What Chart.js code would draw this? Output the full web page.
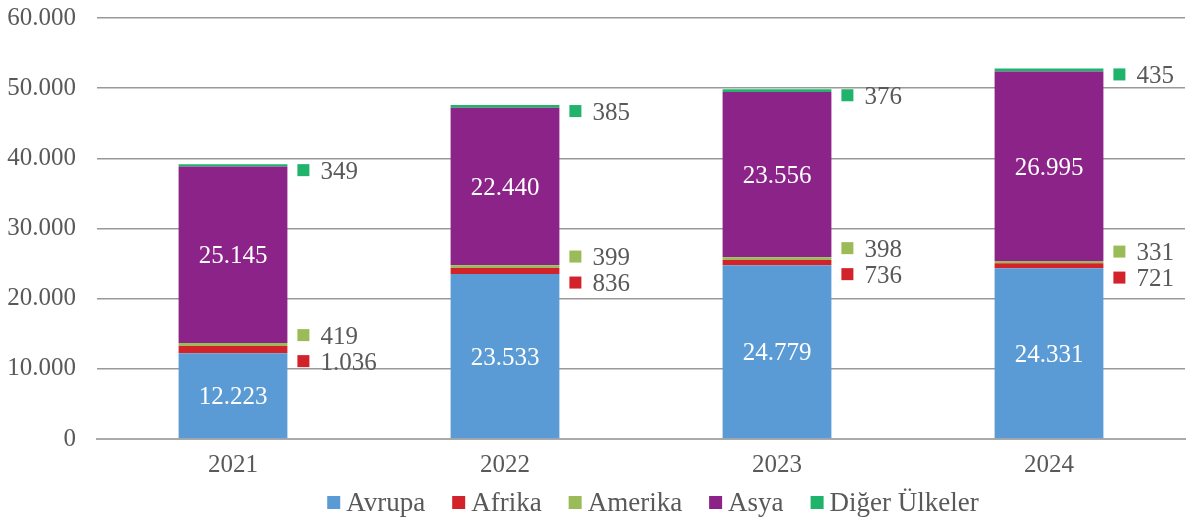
<!DOCTYPE html>
<html>
<head>
<meta charset="utf-8">
<script src="https://cdn.jsdelivr.net/npm/chart.js@4"></script>
<style>
  html, body { margin: 0; padding: 0; background: #fff; }
  #wrap { width: 1195px; height: 521px; }
</style>
</head>
<body>
<div id="wrap"><canvas id="chart" width="1195" height="521"></canvas></div>
<script>
const years = ['2021', '2022', '2023', '2024'];
const avrupa = [12223, 23533, 24779, 24331];
const afrika = [1036, 836, 736, 721];
const amerika = [419, 399, 398, 331];
const asya = [25145, 22440, 23556, 26995];
const diger = [349, 385, 376, 435];
const yTicks = [0, 10000, 20000, 30000, 40000, 50000, 60000];

const FONT = '"Liberation Serif", "DejaVu Serif", serif';
const GREY = '#595959';

// numbers with a dot as thousands separator
function fmt(v) {
    return v.toString().replace(/\B(?=(\d{3})+(?!\d))/g, '.');
}

// labels inside the bar (white) and beside it (with a small square)
const labelPlugin = {
    id: 'segLabels',
    afterDatasetsDraw(chart) {
        const ctx = chart.ctx;
        ctx.save();
        ctx.font = '25px ' + FONT;
        ctx.textBaseline = 'middle';
        chart.data.datasets.forEach((ds, i) => {
            const meta = chart.getDatasetMeta(i);
            meta.data.forEach((bar, j) => {
                const v = ds.data[j];
                const right = bar.x + bar.width / 2;
                let y;
                if (i === 0 || i === 3) {
                    ctx.fillStyle = '#ffffff';
                    ctx.textAlign = 'center';
                    ctx.fillText(fmt(v), bar.x, (bar.y + bar.base) / 2 + 2);
                    return;
                }
                if (i === 1 || i === 2) {
                    const afr = chart.getDatasetMeta(1).data[j];
                    const am = chart.getDatasetMeta(2).data[j];
                    const mid = (afr.base + am.y) / 2;
                    y = i === 2 ? mid - 13 : mid + 13;
                } else {
                    y = bar.y + 6;
                }
                ctx.fillStyle = ds.backgroundColor;
                ctx.fillRect(right + 10, y - 6, 12, 12);
                ctx.fillStyle = GREY;
                ctx.textAlign = 'left';
                ctx.fillText(fmt(v), right + 33, y + 2);
            });
        });
        ctx.restore();
    }
};

// legend under the axis, drawn by hand to get Excel-like spacing
const legendPlugin = {
    id: 'bottomLegend',
    afterDraw(chart) {
        const ctx = chart.ctx;
        const sets = chart.data.datasets;
        ctx.save();
        ctx.font = '27px ' + FONT;
        ctx.textBaseline = 'middle';
        ctx.textAlign = 'left';
        const box = 13, gap = 6, space = 27;
        const widths = sets.map(ds => ctx.measureText(ds.label).width);
        let total = widths.reduce((a, w) => a + box + gap + w, 0) + space * (sets.length - 1);
        let x = 653 - total / 2;
        const y = 502;
        sets.forEach((ds, i) => {
            ctx.fillStyle = ds.backgroundColor;
            ctx.fillRect(x, y - 6, box, box);
            ctx.fillStyle = GREY;
            ctx.fillText(ds.label, x + box + gap, y + 2);
            x += box + gap + widths[i] + space;
        });
        ctx.restore();
    }
};

new Chart(document.getElementById('chart'), {
    type: 'bar',
    data: {
        labels: years,
        datasets: [
            { label: 'Avrupa', data: avrupa, backgroundColor: '#5B9BD5' },
            { label: 'Afrika', data: afrika, backgroundColor: '#D2232A' },
            { label: 'Amerika', data: amerika, backgroundColor: '#9BBB59' },
            { label: 'Asya', data: asya, backgroundColor: '#8B2388' },
            { label: 'Diğer Ülkeler', data: diger, backgroundColor: '#1FB36C' }
        ]
    },
    options: {
        responsive: false,
        animation: false,
        layout: { padding: { top: 0, right: 10, left: 0, bottom: 31 } },
        datasets: {
            bar: { barPercentage: 0.4, categoryPercentage: 1.0, borderWidth: 0 }
        },
        scales: {
            x: {
                stacked: true,
                afterFit(scale) { scale.height = 51; },
                grid: { display: false },
                border: { display: true, color: '#AAAAAA', width: 2 },
                ticks: { color: GREY, font: { family: FONT, size: 25 }, padding: 3 }
            },
            y: {
                stacked: true,
                min: 0,
                max: 60000,
                afterFit(scale) { scale.width = 97; },
                afterBuildTicks(scale) { scale.ticks = yTicks.map(v => ({ value: v })); },
                grid: { color: '#999999', lineWidth: 1.5, drawTicks: true, tickLength: 18, tickColor: 'rgba(0,0,0,0)' },
                border: { display: false },
                ticks: {
                    color: GREY,
                    font: { family: FONT, size: 25 },
                    padding: 3,
                    callback: v => fmt(v)
                }
            }
        },
        plugins: {
            tooltip: { enabled: false },
            legend: { display: false }
        }
    },
    plugins: [labelPlugin, legendPlugin]
});
</script>
</body>
</html>
